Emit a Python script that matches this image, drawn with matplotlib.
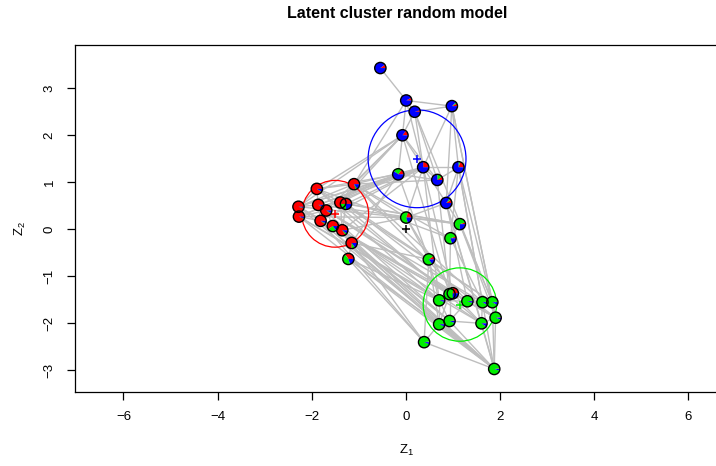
import numpy as np
import matplotlib.pyplot as plt
from matplotlib.patches import Circle, Wedge

plt.rcParams['font.family'] = ['Liberation Sans', 'DejaVu Sans']
plt.rcParams['mathtext.fontset'] = 'custom'
plt.rcParams['mathtext.rm'] = 'Liberation Sans'
plt.rcParams['mathtext.it'] = 'Liberation Sans'

# latent positions (Z1, Z2)
z1 = [-0.54, 0.01, 0.98, 0.19, -0.07, 0.37, 1.12, -0.16, 0.67, 0.86,
      -1.10, -1.89, -2.28, -2.27, -1.86, -1.69, -1.39, -1.27, -1.81, -1.55,
      -1.35, -1.15, -1.22,
      0.01, 1.15, 0.95, 0.49,
      0.93, 1.00, 0.71, 1.31, 1.63, 1.84, 1.91, 0.93, 0.71, 1.61, 0.39, 1.88]
z2 = [3.43, 2.74, 2.62, 2.50, 2.00, 1.32, 1.32, 1.17, 1.05, 0.56,
      0.96, 0.86, 0.48, 0.27, 0.52, 0.40, 0.57, 0.54, 0.18, 0.07,
      -0.02, -0.29, -0.63,
      0.25, 0.11, -0.19, -0.64,
      -1.38, -1.36, -1.51, -1.53, -1.55, -1.55, -1.88, -1.95, -2.02, -2.00, -2.40, -2.97]

# cluster membership probabilities (red, green, blue)
p_red = [0.10, 0.08, 0.08, 0.05, 0.15, 0.25, 0.20, 0.15, 0.10, 0.10,
         0.80, 0.90, 0.95, 0.93, 0.93, 0.90, 0.85, 0.50, 0.90, 0.60,
         0.85, 0.75, 0.35,
         0.20, 0.05, 0.05, 0.10,
         0.10, 0.25, 0.02, 0.02, 0.02, 0.02, 0.02, 0.02, 0.02, 0.02, 0.02, 0.02]
p_green = [0.00, 0.00, 0.04, 0.00, 0.00, 0.00, 0.05, 0.25, 0.15, 0.05,
           0.05, 0.02, 0.02, 0.02, 0.02, 0.03, 0.03, 0.25, 0.03, 0.25,
           0.05, 0.10, 0.45,
           0.60, 0.70, 0.75, 0.75,
           0.80, 0.50, 0.93, 0.93, 0.90, 0.90, 0.92, 0.92, 0.92, 0.88, 0.92, 0.93]

# cluster means and radii
clu_x = [-1.50, 1.15, 0.24]
clu_y = [0.33, -1.60, 1.50]
clu_r = [0.71, 0.78, 1.04]
clu_col = ['red', '#00EE00', 'blue']

edges = [
    (0, 1), (1, 2), (1, 3), (1, 4), (2, 3), (2, 6), (2, 5), (3, 5), (4, 5), (4, 7),
    (5, 6), (5, 8), (5, 9), (6, 8), (7, 8), (3, 8), (1, 5), (2, 9), (4, 8), (6, 9), (3, 4),
    (10, 4), (10, 5), (11, 4), (12, 4), (14, 5), (16, 4), (16, 7), (17, 5), (13, 7), (11, 7),
    (12, 5), (10, 1), (15, 4), (18, 5), (10, 8), (20, 5), (21, 7), (14, 7), (12, 7), (13, 5),
    (10, 11), (10, 12), (10, 16), (11, 12), (11, 14), (12, 13), (12, 14), (13, 18), (14, 15),
    (15, 16), (16, 17), (18, 19), (19, 20), (20, 21), (21, 22), (15, 19), (17, 20), (10, 17),
    (11, 16), (13, 15), (12, 18), (14, 18), (16, 20),
    (10, 23), (12, 23), (16, 24), (14, 24), (11, 25), (13, 23), (17, 24), (20, 23), (21, 26), (10, 25),
    (12, 27), (13, 29), (14, 30), (15, 31), (16, 32), (18, 35), (19, 34), (20, 36), (21, 37),
    (22, 37), (22, 35), (11, 29), (10, 31), (17, 33), (12, 38), (13, 38), (18, 38), (19, 38),
    (20, 38), (21, 38), (22, 38), (16, 36), (15, 28), (14, 34), (11, 27), (10, 30), (22, 29),
    (21, 34), (20, 29), (19, 27), (18, 37), (17, 32), (13, 36), (12, 33),
    (2, 32), (2, 33), (6, 31), (6, 33), (9, 30), (9, 36), (8, 27), (5, 29), (7, 26), (5, 28),
    (3, 32), (4, 27), (9, 38), (6, 38),
    (23, 24), (23, 26), (24, 25), (25, 27), (24, 33), (26, 29), (23, 9), (24, 9), (25, 6),
    (26, 37), (23, 5), (26, 35), (25, 31), (24, 32), (23, 28),
    (27, 28), (27, 29), (28, 30), (29, 30), (30, 31), (31, 32), (32, 33), (33, 36), (34, 35),
    (34, 36), (35, 37), (36, 38), (33, 38), (34, 38), (35, 38), (37, 38), (29, 34), (30, 34),
    (28, 36), (31, 36), (29, 35), (27, 34), (32, 38), (30, 33), (27, 35), (28, 33),
]

W, H = 716, 466
fig = plt.figure(figsize=(W / 100, H / 100), dpi=100)
# plot box in pixels: left 75, top 45, bottom 392; 47.05 px per unit
x_lo, y_lo, y_hi = -7.03, -3.46, 3.92
ppu = 47.05
x_hi = x_lo + 760 / ppu
ax = fig.add_axes([75 / W, (H - 392) / H, 760 / W, (392 - 45) / H])
ax.set_xlim(x_lo, x_hi)
ax.set_ylim(y_lo, y_hi)

for a, b in edges:
    ax.plot([z1[a], z1[b]], [z2[a], z2[b]], color='#BEBEBE', lw=1.0, zorder=1)

for cx, cy, r, c in zip(clu_x, clu_y, clu_r, clu_col):
    ax.add_patch(Circle((cx, cy), r, fill=False, ec=c, lw=0.9, zorder=2))
    ax.plot(cx, cy, marker='+', color=c, ms=6, mew=1.1, zorder=2)
ax.plot(0, 0, marker='+', color='black', ms=6, mew=1.1, zorder=2)

nr = 0.12
for i in range(len(z1)):
    pr, pg = p_red[i], p_green[i]
    pb = 1 - pr - pg
    start = 0.0
    for frac, c in zip([pr, pg, pb], ['red', '#00EE00', 'blue']):
        if frac > 0:
            ax.add_patch(Wedge((z1[i], z2[i]), nr, start, start + 360 * frac,
                               fc=c, ec='none', zorder=3))
        start += 360 * frac
    ax.add_patch(Circle((z1[i], z2[i]), nr, fill=False, ec='black', lw=1.0, zorder=4))

for s in ['top', 'bottom', 'left', 'right']:
    ax.spines[s].set_linewidth(0.9)
ax.set_xticks(np.arange(-6, 7, 2))
ax.set_yticks(np.arange(-3, 4, 1))
ax.set_xticklabels(['\u22126', '\u22124', '\u22122', '0', '2', '4', '6'])
ax.set_yticklabels(['\u22123', '\u22122', '\u22121', '0', '1', '2', '3'],
                   rotation=90, va='center')
ax.tick_params(direction='out', length=6, width=0.9, labelsize=9.5, pad=8)
ax.tick_params(axis='y', pad=8)

fig.text(406.4 / W, 1 - 450 / H, r'$\mathrm{Z}_1$', ha='center', va='center', fontsize=9.5)
fig.text(20 / W, 1 - 229 / H, r'$\mathrm{Z}_2$', ha='center', va='center', fontsize=9.5, rotation=90)
fig.text(397 / W, 1 - 13 / H, 'Latent cluster random model', ha='center', va='center',
         fontsize=11.5, fontweight='bold')

fig.savefig('out.png', dpi=100)
